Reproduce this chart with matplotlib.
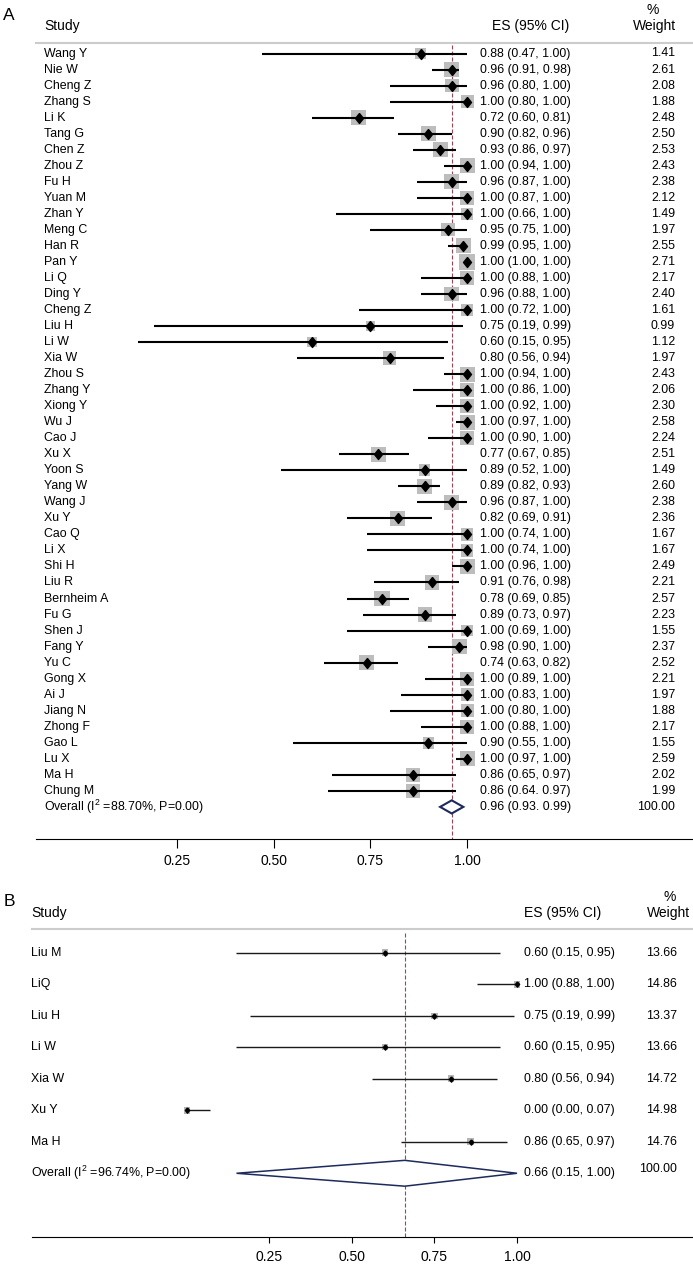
import numpy as np
import matplotlib
matplotlib.use("Agg")
import matplotlib.pyplot as plt
from matplotlib import transforms
from matplotlib.patches import Polygon

plt.rcParams['font.family'] = ['Liberation Sans', 'DejaVu Sans']
plt.rcParams['mathtext.fontset'] = 'custom'
plt.rcParams['mathtext.rm'] = 'Liberation Sans'
plt.rcParams['mathtext.it'] = 'Liberation Sans:italic'

# ---- panel A data
studies_a = ["Wang Y", "Nie W", "Cheng Z", "Zhang S", "Li K", "Tang G", "Chen Z", "Zhou Z",
             "Fu H", "Yuan M", "Zhan Y", "Meng C", "Han R", "Pan Y", "Li Q", "Ding Y",
             "Cheng Z", "Liu H", "Li W", "Xia W", "Zhou S", "Zhang Y", "Xiong Y", "Wu J",
             "Cao J", "Xu X", "Yoon S", "Yang W", "Wang J", "Xu Y", "Cao Q", "Li X",
             "Shi H", "Liu R", "Bernheim A", "Fu G", "Shen J", "Fang Y", "Yu C", "Gong X",
             "Ai J", "Jiang N", "Zhong F", "Gao L", "Lu X", "Ma H", "Chung M"]
es_a = [0.88, 0.96, 0.96, 1.00, 0.72, 0.90, 0.93, 1.00, 0.96, 1.00, 1.00, 0.95, 0.99, 1.00,
        1.00, 0.96, 1.00, 0.75, 0.60, 0.80, 1.00, 1.00, 1.00, 1.00, 1.00, 0.77, 0.89, 0.89,
        0.96, 0.82, 1.00, 1.00, 1.00, 0.91, 0.78, 0.89, 1.00, 0.98, 0.74, 1.00, 1.00, 1.00,
        1.00, 0.90, 1.00, 0.86, 0.86]
lo_a = [0.47, 0.91, 0.80, 0.80, 0.60, 0.82, 0.86, 0.94, 0.87, 0.87, 0.66, 0.75, 0.95, 1.00,
        0.88, 0.88, 0.72, 0.19, 0.15, 0.56, 0.94, 0.86, 0.92, 0.97, 0.90, 0.67, 0.52, 0.82,
        0.87, 0.69, 0.74, 0.74, 0.96, 0.76, 0.69, 0.73, 0.69, 0.90, 0.63, 0.89, 0.83, 0.80,
        0.88, 0.55, 0.97, 0.65, 0.64]
hi_a = [1.00, 0.98, 1.00, 1.00, 0.81, 0.96, 0.97, 1.00, 1.00, 1.00, 1.00, 1.00, 1.00, 1.00,
        1.00, 1.00, 1.00, 0.99, 0.95, 0.94, 1.00, 1.00, 1.00, 1.00, 1.00, 0.85, 1.00, 0.93,
        1.00, 0.91, 1.00, 1.00, 1.00, 0.98, 0.85, 0.97, 1.00, 1.00, 0.82, 1.00, 1.00, 1.00,
        1.00, 1.00, 1.00, 0.97, 0.97]
wt_a = [1.41, 2.61, 2.08, 1.88, 2.48, 2.50, 2.53, 2.43, 2.38, 2.12, 1.49, 1.97, 2.55, 2.71,
        2.17, 2.40, 1.61, 0.99, 1.12, 1.97, 2.43, 2.06, 2.30, 2.58, 2.24, 2.51, 1.49, 2.60,
        2.38, 2.36, 1.67, 1.67, 2.49, 2.21, 2.57, 2.23, 1.55, 2.37, 2.52, 2.21, 1.97, 1.88,
        2.17, 1.55, 2.59, 2.02, 1.99]
overall_a = [0.96, 0.93, 0.99]
overall_label_a = "Overall (I$^2$ =88.70%, P=0.00)"

# ---- panel B data
studies_b = ["Liu M", "LiQ", "Liu H", "Li W", "Xia W", "Xu Y", "Ma H"]
es_b = [0.60, 1.00, 0.75, 0.60, 0.80, 0.00, 0.86]
lo_b = [0.15, 0.88, 0.19, 0.15, 0.56, 0.00, 0.65]
hi_b = [0.95, 1.00, 0.99, 0.95, 0.94, 0.07, 0.97]
wt_b = [13.66, 14.86, 13.37, 13.66, 14.72, 14.98, 14.76]
overall_b = [0.66, 0.15, 1.00]
overall_label_b = "Overall (I$^2$ =96.74%, P=0.00)"

ticks = [0.25, 0.50, 0.75, 1.00]
tick_labels = ["0.25", "0.50", "0.75", "1.00"]

W, H = 693, 1264
fs = 8.9      # row text
fh = 10       # headers and tick labels
navy = '#1d2a5c'
red = '#9a4656'
diamond = [(0, 1), (0.8, 0), (0, -1), (-0.8, 0), (0, 1)]


def fig_box(l, t, r, b):
    return [l / W, 1 - b / H, (r - l) / W, (b - t) / H]


def ci_text(e, l, h, sep=","):
    return f"{e:.2f} ({l:.2f}{sep} {h:.2f})"


fig = plt.figure(figsize=(W / 100, H / 100), dpi=100)

# ================= A
axA = fig.add_axes(fig_box(35.5, 42.7, W, 839))
x0, kx = 80, 387.2      # pixel of 0 and pixels per unit
y0, ky = 53.5, 16.03    # pixel of first row and row spacing
axA.set_xlim((35.5 - x0) / kx, (W - x0) / kx)
axA.set_ylim((839 - y0) / ky, (42.7 - y0) / ky)
tA = transforms.blended_transform_factory(fig.transFigure, axA.transData)

rows = np.arange(len(studies_a))
axA.scatter(es_a, rows, s=46.8 * np.array(wt_a), marker='s', color='#bdbdbd', lw=0, zorder=1)
axA.hlines(rows, lo_a, hi_a, color='black', lw=1.5, zorder=2)
axA.plot(es_a, rows, ls='none', marker=diamond, ms=7.2, color='black', zorder=3)

r = len(studies_a)
e, l, h = overall_a
axA.add_patch(Polygon([(l, r), (e, r - 0.41), (h, r), (e, r + 0.41)], closed=True,
                      fc='white', ec=navy, lw=1.5, zorder=3))
axA.vlines(e, -0.5, (839 - y0) / ky, color=red, lw=0.8, ls=(0, (3.6, 1.8)), zorder=0)

for i in range(len(studies_a)):
    sep = "." if studies_a[i] == "Chung M" else ","
    axA.text(44 / W, i, studies_a[i], transform=tA, va='center', ha='left', fontsize=fs)
    axA.text(479.5 / W, i, ci_text(es_a[i], lo_a[i], hi_a[i], sep), transform=tA,
             va='center', ha='left', fontsize=fs)
    axA.text(675 / W, i, f"{wt_a[i]:.2f}", transform=tA, va='center', ha='right', fontsize=fs)
axA.text(44 / W, r, overall_label_a, transform=tA, va='center', ha='left', fontsize=fs)
axA.text(479.5 / W, r, ci_text(e, l, h, "."), transform=tA, va='center', ha='left', fontsize=fs)
axA.text(675 / W, r, "100.00", transform=tA, va='center', ha='right', fontsize=fs)

for s in ['left', 'right']:
    axA.spines[s].set_visible(False)
axA.spines['top'].set_color('#cccccc')
axA.spines['top'].set_linewidth(1.5)
axA.spines['bottom'].set_linewidth(0.8)
axA.set_yticks([])
axA.set_xticks(ticks)
axA.set_xticklabels(tick_labels)
axA.tick_params(axis='x', direction='out', length=6.7, width=0.8, pad=4.2, labelsize=fh)

fig.text(9 / W, 1 - 15 / H, "A", ha='center', va='center', fontsize=12.5)
fig.text(44 / W, 1 - 26 / H, "Study", ha='left', va='center', fontsize=fh)
fig.text(492 / W, 1 - 26 / H, "ES (95% CI)", ha='left', va='center', fontsize=fh)
fig.text(653 / W, 1 - 10 / H, "%", ha='center', va='center', fontsize=fh)
fig.text(676 / W, 1 - 26 / H, "Weight", ha='right', va='center', fontsize=fh)

# ================= B
axB = fig.add_axes(fig_box(31.5, 929, W, 1236.7))
x0, kx = 187, 330
y0, ky = 952.7, 31.51
axB.set_xlim((31.5 - x0) / kx, (W - x0) / kx)
axB.set_ylim((1236.7 - y0) / ky, (929 - y0) / ky)
tB = transforms.blended_transform_factory(fig.transFigure, axB.transData)

rows = np.arange(len(studies_b))
axB.scatter(es_b, rows, s=1.6 * np.array(wt_b), marker='s', color='#b5b5b5', lw=0, zorder=1)
axB.hlines(rows, lo_b, hi_b, color='#1a1a1a', lw=1.0, zorder=2)
axB.plot(es_b, rows, ls='none', marker=diamond, ms=3.8, color='black', zorder=3)

r = len(studies_b)
e, l, h = overall_b
axB.add_patch(Polygon([(l, r), (e, r - 0.41), (h, r), (e, r + 0.41)], closed=True,
                      fc='white', ec=navy, lw=1.1, zorder=3))
axB.vlines(e, (933 - y0) / ky, (1236.7 - y0) / ky, color=red, lw=0.8, ls=(0, (3.6, 1.8)), zorder=0)

for i in range(len(studies_b)):
    axB.text(31 / W, i, studies_b[i], transform=tB, va='center', ha='left', fontsize=fs)
    axB.text(524.5 / W, i, ci_text(es_b[i], lo_b[i], hi_b[i]), transform=tB,
             va='center', ha='left', fontsize=fs)
    axB.text(677 / W, i, f"{wt_b[i]:.2f}", transform=tB, va='center', ha='right', fontsize=fs)
axB.text(31 / W, r, overall_label_b, transform=tB, va='center', ha='left', fontsize=fs)
axB.text(524.5 / W, r, ci_text(e, l, h), transform=tB, va='center', ha='left', fontsize=fs)
axB.text(677 / W, r - 0.12, "100.00", transform=tB, va='center', ha='right', fontsize=fs)

for s in ['left', 'right']:
    axB.spines[s].set_visible(False)
axB.spines['top'].set_color('#cccccc')
axB.spines['top'].set_linewidth(1.5)
axB.spines['bottom'].set_linewidth(0.8)
axB.set_yticks([])
axB.set_xticks(ticks)
axB.set_xticklabels(tick_labels)
axB.tick_params(axis='x', direction='out', length=4.3, width=0.8, pad=5.5, labelsize=fh)

fig.text(9 / W, 1 - 902 / H, "B", ha='center', va='center', fontsize=12.5)
fig.text(31 / W, 1 - 913 / H, "Study", ha='left', va='center', fontsize=fh)
fig.text(524 / W, 1 - 913 / H, "ES (95% CI)", ha='left', va='center', fontsize=fh)
fig.text(669.5 / W, 1 - 897 / H, "%", ha='center', va='center', fontsize=fh)
fig.text(690 / W, 1 - 913 / H, "Weight", ha='right', va='center', fontsize=fh)

fig.savefig("out.png", dpi=100)
